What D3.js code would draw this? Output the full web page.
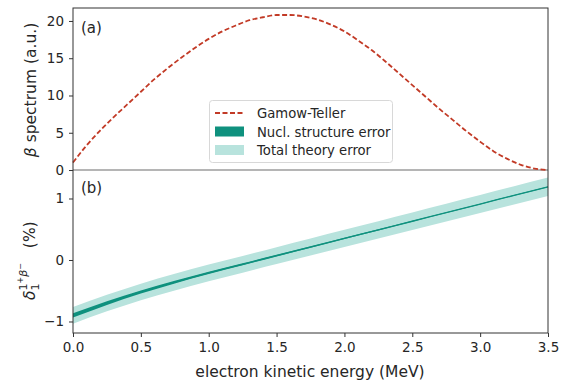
<!DOCTYPE html>
<html>
<head>
<meta charset="utf-8">
<script src="https://cdn.jsdelivr.net/npm/d3@7"></script>
<style>
  body { margin: 0; background: #fff; }
  text { font-family: "DejaVu Sans", sans-serif; fill: #262626; }
</style>
</head>
<body>
<script>
// electron kinetic energy grid (MeV) for the spectrum
var energy = [0.0, 0.1, 0.2, 0.3, 0.4, 0.5, 0.6, 0.7, 0.8, 0.9, 1.0, 1.1, 1.2, 1.3, 1.4, 1.5, 1.6, 1.7,
  1.8, 1.9, 2.0, 2.1, 2.2, 2.3, 2.4, 2.5, 2.6, 2.7, 2.8, 2.9, 3.0, 3.1, 3.2, 3.3, 3.4, 3.5];
// Gamow-Teller beta spectrum (a.u.)
var spectrum = [1.0, 3.3, 5.3, 7.1, 8.8, 10.5, 12.2, 13.7, 15.1, 16.4, 17.6, 18.6, 19.4, 20.1, 20.5, 20.8, 20.8, 20.6,
  20.2, 19.5, 18.6, 17.4, 16.1, 14.6, 13.0, 11.4, 9.8, 8.2, 6.7, 5.2, 3.8, 2.5, 1.5, 0.7, 0.2, 0.0];

// correction delta (%) and its error bands
var deltaE = [0.0, 0.25, 0.5, 0.75, 1.0, 1.25, 1.5, 1.75, 2.0, 2.25, 2.5, 2.75, 3.0, 3.25, 3.5];
var delta = [-0.90, -0.70, -0.52, -0.36, -0.21, -0.07, 0.07, 0.21, 0.35, 0.49, 0.63, 0.77, 0.91, 1.05, 1.19];
var nuclErr = [0.035, 0.03, 0.026, 0.022, 0.019, 0.016, 0.014, 0.012, 0.01, 0.009, 0.008, 0.007, 0.006, 0.006, 0.006];
var totalErr = [0.135, 0.135, 0.135, 0.135, 0.135, 0.136, 0.137, 0.138, 0.14, 0.141, 0.143, 0.145, 0.147, 0.149, 0.15];

var xTicks = [0, 0.5, 1.0, 1.5, 2.0, 2.5, 3.0, 3.5];
var topTicks = [0, 5, 10, 15, 20];
var botTicks = [-1, 0, 1];

var W = 561, H = 381;
var plotLeft = 73, plotRight = 548, plotTop = 8, plotMid = 171, plotBottom = 333;

var svg = d3.select("body").append("svg").attr("width", W).attr("height", H);

var x = d3.scaleLinear().domain([0, 3.5]).range([plotLeft, plotRight]);
var y0 = d3.scaleLinear().domain([-0.13, 21.74]).range([plotMid, plotTop]);
var y1 = d3.scaleLinear().domain([-1.187, 1.447]).range([plotBottom, plotMid]);

// bottom panel: bands then line
var rows = deltaE.map(function (e, i) {
  return { e: e, d: delta[i], n: nuclErr[i], t: totalErr[i] };
});
var totalArea = d3.area().curve(d3.curveMonotoneX)
  .x(function (d) { return x(d.e); })
  .y0(function (d) { return y1(d.d - d.t); })
  .y1(function (d) { return y1(d.d + d.t); });
var nuclArea = d3.area().curve(d3.curveMonotoneX)
  .x(function (d) { return x(d.e); })
  .y0(function (d) { return y1(d.d - d.n); })
  .y1(function (d) { return y1(d.d + d.n); });
var deltaLine = d3.line().curve(d3.curveMonotoneX)
  .x(function (d) { return x(d.e); })
  .y(function (d) { return y1(d.d); });

svg.append("path").datum(rows).attr("d", totalArea).attr("fill", "#b8e3dd");
svg.append("path").datum(rows).attr("d", nuclArea).attr("fill", "#0f917e");
svg.append("path").datum(rows).attr("d", deltaLine)
  .attr("fill", "none").attr("stroke", "#0f917e").attr("stroke-width", 1.3);

// top panel: zero line and spectrum
svg.append("line")
  .attr("x1", plotLeft).attr("x2", plotRight).attr("y1", y0(0)).attr("y2", y0(0))
  .attr("stroke", "#b5b5b5").attr("stroke-width", 2);

var specLine = d3.line().curve(d3.curveMonotoneX)
  .x(function (d, i) { return x(energy[i]); })
  .y(function (d) { return y0(d); });
svg.append("path").datum(spectrum).attr("d", specLine)
  .attr("fill", "none").attr("stroke", "#c23a26").attr("stroke-width", 1.8)
  .attr("stroke-dasharray", "5,2.5");

// axes
svg.append("g").attr("transform", "translate(0," + plotBottom + ")")
  .call(d3.axisBottom(x).tickValues(xTicks).tickFormat(d3.format(".1f")).tickSizeOuter(0).tickSize(4).tickPadding(5))
  .call(function (g) { g.select(".domain").remove(); });
svg.append("g").attr("transform", "translate(" + plotLeft + ",0)")
  .call(d3.axisLeft(y0).tickValues(topTicks).tickSizeOuter(0).tickSize(4).tickPadding(5))
  .call(function (g) { g.select(".domain").remove(); });
svg.append("g").attr("transform", "translate(" + plotLeft + ",0)")
  .call(d3.axisLeft(y1).tickValues(botTicks).tickFormat(function (d) { return d < 0 ? "\u2212" + Math.abs(d) : d; })
    .tickSizeOuter(0).tickSize(4).tickPadding(5))
  .call(function (g) { g.select(".domain").remove(); });
svg.selectAll(".tick text").attr("font-size", 13.5).attr("font-family", "DejaVu Sans").attr("fill", "#262626");
svg.selectAll(".tick line").attr("stroke", "#333");

// spines
svg.append("rect").attr("x", plotLeft).attr("y", plotTop).attr("width", plotRight - plotLeft).attr("height", plotBottom - plotTop)
  .attr("fill", "none").attr("stroke", "#333").attr("stroke-width", 1);

// panel labels
svg.append("text").attr("x", 81).attr("y", 33).attr("font-size", 15).text("(a)");
svg.append("text").attr("x", 81).attr("y", 193).attr("font-size", 15).text("(b)");

// axis labels
svg.append("text").attr("x", 310).attr("y", 377).attr("text-anchor", "middle")
  .attr("font-size", 15.5).text("electron kinetic energy (MeV)");

var ya = svg.append("text").attr("transform", "translate(36,90) rotate(-90)")
  .attr("text-anchor", "middle").attr("font-size", 15.5);
ya.append("tspan").attr("font-style", "italic").text("\u03b2");
ya.append("tspan").text(" spectrum (a.u.)");

// delta_1^{1+ beta-} (%)
var yb = svg.append("text").attr("transform", "translate(35,300) rotate(-90)")
  .attr("font-size", 15.5);
yb.append("tspan").attr("font-style", "italic").text("\u03b4");
yb.append("tspan").attr("font-size", 11).attr("dy", 4).text("1");
yb.append("tspan").attr("font-size", 11).attr("dx", -7).attr("dy", -12).text("1");
yb.append("tspan").attr("font-size", 8).attr("dy", -4).text("+");
yb.append("tspan").attr("font-size", 11).attr("font-style", "italic").attr("dy", 4).text("\u03b2");
yb.append("tspan").attr("font-size", 8).attr("dy", -4).text("\u2212");
yb.append("tspan").attr("dx", 10).attr("dy", 12).text("  (%)");

// legend
var lg = svg.append("g");
lg.append("rect").attr("x", 209.5).attr("y", 100.5).attr("width", 183).attr("height", 62).attr("rx", 3)
  .attr("fill", "#fff").attr("fill-opacity", 0.85).attr("stroke", "#d8d8d8");
var items = [
  { label: "Gamow-Teller", kind: "line", color: "#c23a26" },
  { label: "Nucl. structure error", kind: "box", color: "#0f917e" },
  { label: "Total theory error", kind: "box", color: "#b8e3dd" }
];
items.forEach(function (it, i) {
  var cy = 113 + i * 18.5;
  if (it.kind === "line") {
    lg.append("line").attr("x1", 215).attr("x2", 244).attr("y1", cy).attr("y2", cy)
      .attr("stroke", it.color).attr("stroke-width", 1.8).attr("stroke-dasharray", "5,2.5");
  } else {
    lg.append("rect").attr("x", 215).attr("y", cy - 5).attr("width", 29).attr("height", 10).attr("fill", it.color);
  }
  lg.append("text").attr("x", 257).attr("y", cy + 5).attr("font-size", 13.2).text(it.label);
});
</script>
</body>
</html>
